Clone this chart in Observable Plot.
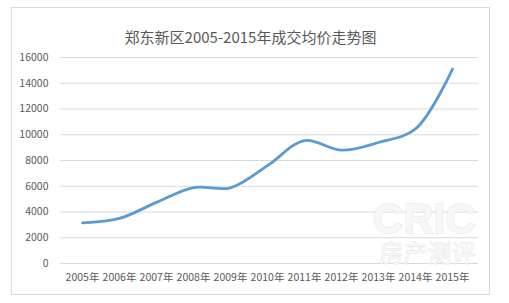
<!DOCTYPE html>
<html>
<head>
<meta charset="utf-8">
<script src="https://cdn.jsdelivr.net/npm/d3@7"></script>
<script src="https://cdn.jsdelivr.net/npm/@observablehq/plot@0.6"></script>
<style>
  html, body { margin: 0; padding: 0; background: #fff; }
  #wrap { position: relative; width: 509px; height: 303px; overflow: hidden; }
  #box { position: absolute; left: 11px; top: 7px; width: 479px; height: 288px; border: 1px solid #d9d9d9; box-sizing: border-box; }
  #chart { position: absolute; left: 0; top: 0; }
</style>
</head>
<body>
<div id="wrap"><div id="box"></div><div id="chart"></div></div>
<script>
const title = "郑东新区2005-2015年成交均价走势图";
const years = ["2005年","2006年","2007年","2008年","2009年","2010年","2011年","2012年","2013年","2014年","2015年"];
const prices = [3150, 3500, 4750, 5900, 5880, 7600, 9550, 8800, 9400, 10450, 15100];
const yTicks = [0, 2000, 4000, 6000, 8000, 10000, 12000, 14000, 16000];
const watermark = ["CRIC", "房产测评"];

const data = years.map((y, i) => ({year: y, price: prices[i]}));
const font = "'Noto Sans CJK SC', 'Noto Sans', sans-serif";

const chart = Plot.plot({
  width: 509,
  height: 303,
  marginTop: 57,
  marginBottom: 40,
  marginLeft: 60,
  marginRight: 31,
  style: {fontFamily: font, fontSize: "10.5px", color: "#595959", background: "transparent"},
  x: {type: "point", domain: years, range: [79, 454], padding: 0, label: null},
  y: {domain: [0, 16000], label: null},
  marks: [
    Plot.ruleY(yTicks, {stroke: "#d9d9d9", strokeWidth: 1}),
    Plot.text([watermark[0]], {frameAnchor: "bottom-right", dx: -3, dy: -31, lineAnchor: "bottom", text: d => d, fontSize: 42, fontWeight: "bold", fill: "#f7f7f7", stroke: "#e4e4e4", strokeWidth: 1, fontFamily: "Arial, 'Liberation Sans', sans-serif"}),
    Plot.text([watermark[1]], {frameAnchor: "bottom-right", dx: -3, dy: -2, lineAnchor: "bottom", text: d => d, fontSize: 24, fill: "#f7f7f7", stroke: "#e4e4e4", strokeWidth: 0.8, fontFamily: font}),
    Plot.axisY({ticks: yTicks, tickSize: 0, tickPadding: 12, tickFormat: d => String(d), fill: "#595959"}),
    Plot.axisX({tickSize: 0, tickPadding: 10, fill: "#595959"}),
    Plot.line(data, {x: "year", y: "price", stroke: "#5b9bd5", strokeWidth: 2.8, curve: "catmull-rom"}),
    Plot.text([title], {frameAnchor: "top", dx: -19, dy: -25, text: d => d, fontSize: 15, fill: "#595959", fontFamily: font})
  ]
});
document.getElementById("chart").appendChild(chart);
</script>
</body>
</html>
